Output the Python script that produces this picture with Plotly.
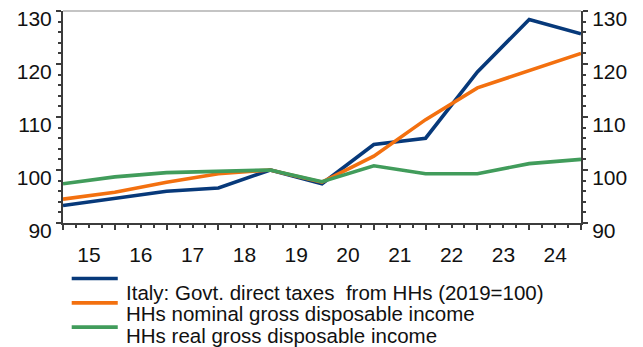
import plotly.graph_objects as go

# Annual index points, one at each year boundary (2019 = 100)
x_pos = list(range(11))
year_labels = ["15", "16", "17", "18", "19", "20", "21", "22", "23", "24", ""]

taxes = [93.3, 94.6, 96.0, 96.6, 100.0, 97.4, 104.8, 106.0, 118.5, 128.4, 125.7]
nominal_income = [94.5, 95.8, 97.7, 99.3, 100.0, 97.7, 102.6, 109.5, 115.5, 118.8, 122.0]
real_income = [97.4, 98.7, 99.5, 99.8, 100.0, 97.8, 100.8, 99.3, 99.3, 101.2, 102.0]

series_names = [
    "Italy: Govt. direct taxes&nbsp;&nbsp;from HHs (2019=100)",
    "HHs nominal gross disposable income",
    "HHs real gross disposable income",
]
series_colors = ["#07397a", "#f3700f", "#419c5b"]
series_values = [taxes, nominal_income, real_income]

FONT = "Liberation Sans, Arial, sans-serif"
AXIS_COLOR = "#3c3c3c"

fig = go.Figure()
for i, (name, vals, col) in enumerate(zip(series_names, series_values, series_colors)):
    fig.add_trace(go.Scatter(
        x=x_pos, y=vals, mode="lines", name=name,
        line=dict(color=col, width=3.6),
        yaxis="y2" if i == 2 else "y",
        showlegend=False,
    ))

y_common = dict(
    range=[90, 130], tickvals=[90, 100, 110, 120, 130],
    ticks="outside", ticklen=5, tickwidth=2, tickcolor=AXIS_COLOR,
    showline=True, linecolor=AXIS_COLOR, linewidth=2,
    showgrid=False, zeroline=False, automargin=False,
    minor=dict(dtick=2, tick0=90, ticks="outside", ticklen=3, tickwidth=2,
               tickcolor=AXIS_COLOR, showgrid=False),
    tickfont=dict(family=FONT, size=21, color="#111111"),
    ticklabelshift=8,
)

fig.update_layout(
    width=643, height=347,
    margin=dict(l=63, r=62, t=11, b=124),
    paper_bgcolor="white", plot_bgcolor="white",
    showlegend=False,
    xaxis=dict(
        range=[0, 10], tickvals=x_pos, ticktext=year_labels,
        ticks="outside", ticklen=5, tickwidth=2, tickcolor=AXIS_COLOR,
        showline=True, linecolor=AXIS_COLOR, linewidth=2,
        showgrid=False, zeroline=False, automargin=False,
        minor=dict(dtick=0.25, tick0=0, ticks="outside", ticklen=3, tickwidth=2,
                   tickcolor=AXIS_COLOR, showgrid=False),
        tickfont=dict(family=FONT, size=21, color="#111111"),
        ticklabelshift=26, ticklabelstandoff=7,
    ),
    yaxis=dict(side="left", **y_common),
    yaxis2=dict(side="right", overlaying="y", anchor="x", **y_common),
)

# light frame line along the top of the plot area
fig.add_shape(type="line", xref="paper", yref="paper", x0=0, x1=1, y0=1, y1=1,
              line=dict(color="#8a8a8a", width=1.2))

# legend: key lines sit above their labels
key_y = [-0.262, -0.377, -0.491]
text_y = [-0.327, -0.428, -0.530]
for name, col, ky, ty in zip(series_names, series_colors, key_y, text_y):
    fig.add_shape(type="line", xref="paper", yref="paper",
                  x0=0.0168, x1=0.1057, y0=ky, y1=ky,
                  line=dict(color=col, width=3.6))
    fig.add_annotation(xref="paper", yref="paper", x=0.118, y=ty,
                       xanchor="left", yanchor="middle", showarrow=False,
                       text=name, font=dict(family=FONT, size=20.5, color="#111111"))

fig.write_html("out.html")
